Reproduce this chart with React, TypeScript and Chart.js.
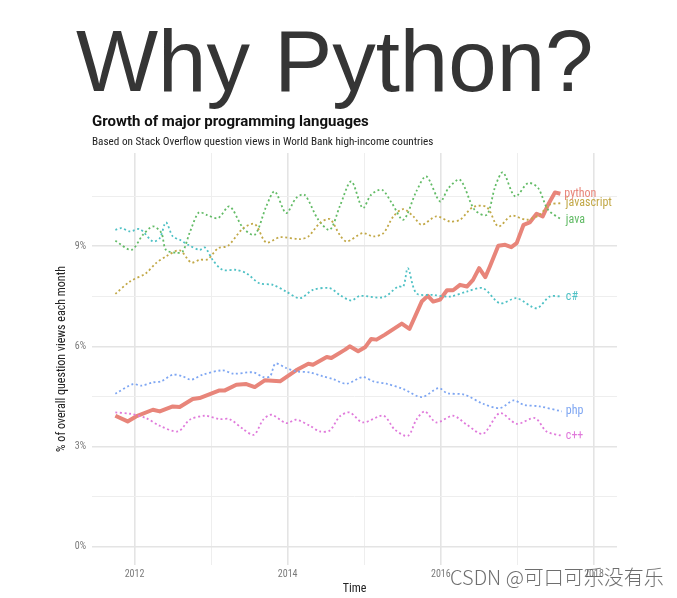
import React, { useEffect, useRef } from "react";
import { Chart, registerables } from "chart.js";

Chart.register(...registerables);

// ---------- data ----------
const languages = ["python", "javascript", "java", "c#", "php", "c++"];
const lineColors = ["#e8857a", "#c2a847", "#62bb66", "#4fc1c5", "#7ea6f2", "#e07adb"];

const pythonYears = [2011.75, 2011.91, 2012.02, 2012.24, 2012.33, 2012.5, 2012.59, 2012.76, 2012.85, 2013.11, 2013.18, 2013.33, 2013.46, 2013.57, 2013.7, 2013.9, 2014.11, 2014.27, 2014.33, 2014.51, 2014.57, 2014.75, 2014.81, 2014.92, 2015.01, 2015.09, 2015.16, 2015.27, 2015.49, 2015.59, 2015.75, 2015.83, 2015.9, 2015.99, 2016.08, 2016.16, 2016.25, 2016.34, 2016.42, 2016.5, 2016.58, 2016.64, 2016.75, 2016.84, 2016.92, 2016.99, 2017.08, 2017.16, 2017.25, 2017.33, 2017.4, 2017.49, 2017.56];
const pythonShare = [3.92, 3.75, 3.9, 4.1, 4.05, 4.2, 4.18, 4.42, 4.45, 4.68, 4.68, 4.85, 4.87, 4.78, 4.98, 4.95, 5.28, 5.48, 5.45, 5.68, 5.65, 5.9, 6.0, 5.85, 5.97, 6.22, 6.2, 6.35, 6.68, 6.52, 7.34, 7.51, 7.34, 7.4, 7.68, 7.68, 7.84, 7.79, 7.99, 8.34, 8.07, 8.39, 9.01, 9.04, 8.97, 9.09, 9.64, 9.71, 9.97, 9.89, 10.24, 10.61, 10.57];

const javascriptYears = [2011.75, 2011.94, 2012.15, 2012.28, 2012.41, 2012.59, 2012.74, 2012.85, 2012.96, 2013.09, 2013.22, 2013.42, 2013.57, 2013.72, 2013.9, 2014.16, 2014.27, 2014.42, 2014.55, 2014.68, 2014.77, 2014.98, 2015.12, 2015.25, 2015.38, 2015.51, 2015.64, 2015.75, 2015.94, 2016.12, 2016.25, 2016.42, 2016.6, 2016.75, 2016.92, 2017.12, 2017.29, 2017.42, 2017.58];
const javascriptShare = [7.57, 7.94, 8.19, 8.49, 8.69, 8.87, 8.51, 8.59, 8.61, 8.94, 9.01, 9.54, 9.66, 9.11, 9.27, 9.21, 9.29, 9.69, 9.81, 9.34, 9.14, 9.39, 9.29, 9.39, 9.89, 10.11, 9.89, 9.64, 9.89, 9.74, 9.79, 10.17, 10.17, 9.59, 9.91, 9.79, 9.94, 10.24, 10.29];

const javaYears = [2011.75, 2011.96, 2012.11, 2012.24, 2012.35, 2012.41, 2012.55, 2012.63, 2012.72, 2012.84, 2012.94, 2013.09, 2013.24, 2013.42, 2013.57, 2013.72, 2013.83, 2013.98, 2014.11, 2014.22, 2014.4, 2014.55, 2014.68, 2014.83, 2014.98, 2015.09, 2015.23, 2015.36, 2015.51, 2015.68, 2015.81, 2015.99, 2016.1, 2016.25, 2016.44, 2016.6, 2016.71, 2016.81, 2016.97, 2017.14, 2017.27, 2017.4, 2017.58];
const javaShare = [9.16, 8.89, 9.34, 9.59, 9.4, 8.89, 8.8, 8.84, 9.4, 10.01, 9.94, 9.84, 10.19, 9.54, 9.34, 10.19, 10.64, 9.99, 10.44, 10.54, 9.79, 9.49, 10.19, 10.94, 10.14, 10.54, 10.69, 10.29, 9.79, 10.64, 11.09, 10.34, 10.74, 10.99, 10.09, 9.94, 10.79, 11.21, 10.49, 10.89, 10.74, 10.09, 9.79];

const csharpYears = [2011.75, 2011.83, 2011.94, 2012.07, 2012.24, 2012.33, 2012.41, 2012.5, 2012.59, 2012.7, 2012.85, 2012.92, 2013.02, 2013.15, 2013.33, 2013.46, 2013.63, 2013.81, 2013.98, 2014.16, 2014.33, 2014.55, 2014.68, 2014.83, 2014.94, 2015.25, 2015.44, 2015.51, 2015.57, 2015.68, 2015.9, 2016.12, 2016.34, 2016.55, 2016.77, 2016.99, 2017.25, 2017.42, 2017.58];
const csharpShare = [9.49, 9.54, 9.44, 9.51, 9.14, 9.24, 9.71, 9.29, 9.19, 9.04, 8.89, 8.96, 8.59, 8.29, 8.29, 8.19, 7.89, 7.84, 7.64, 7.44, 7.69, 7.74, 7.54, 7.37, 7.51, 7.47, 7.79, 7.79, 8.34, 7.59, 7.54, 7.49, 7.64, 7.74, 7.29, 7.44, 7.14, 7.49, 7.49];

const phpYears = [2011.75, 2011.98, 2012.09, 2012.24, 2012.35, 2012.5, 2012.63, 2012.74, 2012.89, 2013.15, 2013.29, 2013.55, 2013.68, 2013.77, 2013.84, 2013.98, 2014.11, 2014.29, 2014.46, 2014.59, 2014.77, 2014.98, 2015.12, 2015.29, 2015.51, 2015.75, 2015.97, 2016.08, 2016.31, 2016.55, 2016.77, 2016.95, 2017.08, 2017.29, 2017.58];
const phpShare = [4.58, 4.87, 4.82, 4.92, 4.95, 5.15, 5.1, 5.0, 5.15, 5.28, 5.18, 5.22, 5.08, 5.1, 5.48, 5.35, 5.25, 5.22, 5.1, 5.02, 4.88, 5.08, 4.95, 4.88, 4.72, 4.48, 4.75, 4.6, 4.55, 4.28, 4.15, 4.38, 4.25, 4.2, 4.05];

const cppYears = [2011.75, 2011.94, 2012.15, 2012.33, 2012.57, 2012.72, 2012.92, 2013.11, 2013.24, 2013.42, 2013.56, 2013.68, 2013.79, 2013.98, 2014.11, 2014.29, 2014.42, 2014.55, 2014.68, 2014.81, 2014.98, 2015.25, 2015.4, 2015.57, 2015.68, 2015.79, 2015.94, 2016.16, 2016.34, 2016.55, 2016.77, 2016.99, 2017.23, 2017.38, 2017.58];
const cppShare = [4.02, 3.98, 3.85, 3.62, 3.45, 3.8, 3.92, 3.82, 3.82, 3.52, 3.35, 3.8, 3.95, 3.7, 3.8, 3.62, 3.45, 3.48, 3.9, 4.02, 3.72, 3.92, 3.5, 3.32, 3.8, 4.05, 3.72, 3.92, 3.65, 3.38, 4.0, 3.68, 3.85, 3.45, 3.32];

const seriesYears = [pythonYears, javascriptYears, javaYears, csharpYears, phpYears, cppYears];
const seriesShare = [pythonShare, javascriptShare, javaShare, csharpShare, phpShare, cppShare];

const yTickValues = [0, 1.5, 3, 4.5, 6, 7.5, 9, 10.5];
const yTickLabels = ["0%", "", "3%", "", "6%", "", "9%", ""];
const xTickValues = [2012, 2013, 2014, 2015, 2016, 2017, 2018];
const xTickLabels = ["2012", "", "2014", "", "2016", "", "2018"];

const COND = '"Roboto Condensed", "Liberation Sans Narrow", "Arial Narrow", Roboto, sans-serif';

const endLabels = {
  id: "endLabels",
  afterDatasetsDraw(chart: any) {
    const ctx = chart.ctx;
    ctx.save();
    ctx.font = `12px ${COND}`;
    ctx.textBaseline = "middle";
    ctx.textAlign = "left";
    chart.data.datasets.forEach((ds: any, i: number) => {
      const meta = chart.getDatasetMeta(i);
      const last = meta.data[meta.data.length - 1];
      if (!last) return;
      ctx.fillStyle = ds.labelColor;
      ctx.fillText(ds.label, last.x + 4, last.y);
    });
    ctx.restore();
  },
};

export default function App() {
  const canvasRef = useRef<HTMLCanvasElement | null>(null);

  useEffect(() => {
    if (!canvasRef.current) return;
    const datasets = languages.map((name, i) => ({
      label: name,
      labelColor: lineColors[i],
      data: seriesYears[i].map((yr, j) => ({ x: yr, y: seriesShare[i][j] })),
      borderColor: lineColors[i],
      borderWidth: i === 0 ? 4 : 1.8,
      borderDash: i === 0 ? [] : [2, 2.6],
      borderCapStyle: "butt" as const,
      borderJoinStyle: "round" as const,
      tension: i === 0 ? 0 : 0.3,
      pointRadius: 0,
      fill: false,
    }));
    const ordered = [...datasets.slice(1), datasets[0]];

    const chart = new Chart(canvasRef.current, {
      type: "line",
      data: { datasets: ordered as any },
      plugins: [endLabels],
      options: {
        animation: false,
        responsive: false,
        devicePixelRatio: 1,
        layout: { padding: { left: 0, right: 60, top: 153, bottom: 0 } },
        plugins: {
          legend: { display: false },
          tooltip: { enabled: false },
          title: { display: false },
        },
        scales: {
          x: {
            type: "linear",
            min: 2011.445,
            max: 2018.3,
            afterFit: (s: any) => {
              s.height = 33;
            },
            afterBuildTicks: (s: any) => {
              s.ticks = xTickValues.map((v) => ({ value: v }));
            },
            ticks: {
              autoSkip: false,
              maxRotation: 0,
              padding: 3,
              color: "#7a7a7a",
              font: { family: COND, size: 10 },
              callback: (v: any) => {
                const k = xTickValues.indexOf(Number(v));
                return k >= 0 ? xTickLabels[k] : "";
              },
            },
            grid: {
              drawTicks: false,
              color: (c: any) => (c.tick && xTickLabels[xTickValues.indexOf(c.tick.value)] ? "#e4e4e4" : "#eeeeee"),
              lineWidth: (c: any) => (c.tick && xTickLabels[xTickValues.indexOf(c.tick.value)] ? 1.6 : 1),
            },
            border: { display: false },
            title: {
              display: true,
              text: "Time",
              color: "#222222",
              font: { family: COND, size: 12 },
              padding: { top: 0, bottom: 2 },
            },
          },
          y: {
            type: "linear",
            min: -0.55,
            max: 11.79,
            afterFit: (s: any) => {
              s.width = 92;
            },
            afterBuildTicks: (s: any) => {
              s.ticks = yTickValues.map((v) => ({ value: v }));
            },
            ticks: {
              autoSkip: false,
              padding: 6,
              color: "#7a7a7a",
              font: { family: COND, size: 10 },
              callback: (v: any) => {
                const k = yTickValues.indexOf(Number(v));
                return k >= 0 ? yTickLabels[k] : "";
              },
            },
            grid: {
              drawTicks: false,
              color: (c: any) => (c.tick && yTickLabels[yTickValues.indexOf(c.tick.value)] ? "#e4e4e4" : "#eeeeee"),
              lineWidth: (c: any) => (c.tick && yTickLabels[yTickValues.indexOf(c.tick.value)] ? 1.6 : 1),
            },
            border: { display: false },
            title: {
              display: true,
              text: "% of overall question views each month",
              color: "#222222",
              font: { family: COND, size: 12 },
              padding: { top: 55, bottom: 0 },
            },
          },
        },
      },
    });
    return () => chart.destroy();
  }, []);

  return (
    <div style={{ position: "absolute", left: 0, top: 0, width: 677, height: 598, background: "#ffffff", overflow: "hidden" }}>
      <canvas ref={canvasRef} width={677} height={598} style={{ position: "absolute", left: 0, top: 0, width: 677, height: 598 }} />
      <div
        style={{
          position: "absolute",
          left: 76,
          top: 17,
          fontFamily: '"Liberation Sans", Arial, sans-serif',
          fontSize: 87,
          lineHeight: "87px",
          color: "#353535",
          whiteSpace: "nowrap",
        }}
      >
        Why Python?
      </div>
      <div
        style={{
          position: "absolute",
          left: 92,
          top: 114,
          fontFamily: "Roboto, sans-serif",
          fontWeight: 700,
          fontSize: 15,
          lineHeight: "15px",
          color: "#111111",
          whiteSpace: "nowrap",
        }}
      >
        Growth of major programming languages
      </div>
      <div
        style={{
          position: "absolute",
          left: 92,
          top: 135.5,
          fontFamily: COND,
          fontSize: 11.2,
          lineHeight: "11.2px",
          color: "#222222",
          whiteSpace: "nowrap",
        }}
      >
        Based on Stack Overflow question views in World Bank high-income countries
      </div>
      <div
        style={{
          position: "absolute",
          left: 450,
          top: 565,
          fontFamily: '"Noto Sans CJK SC", "Noto Sans", sans-serif',
          fontWeight: 300,
          fontSize: 20,
          lineHeight: "24px",
          color: "rgba(85,85,85,0.85)",
          whiteSpace: "nowrap",
        }}
      >
        CSDN @可口可乐没有乐
      </div>
    </div>
  );
}
